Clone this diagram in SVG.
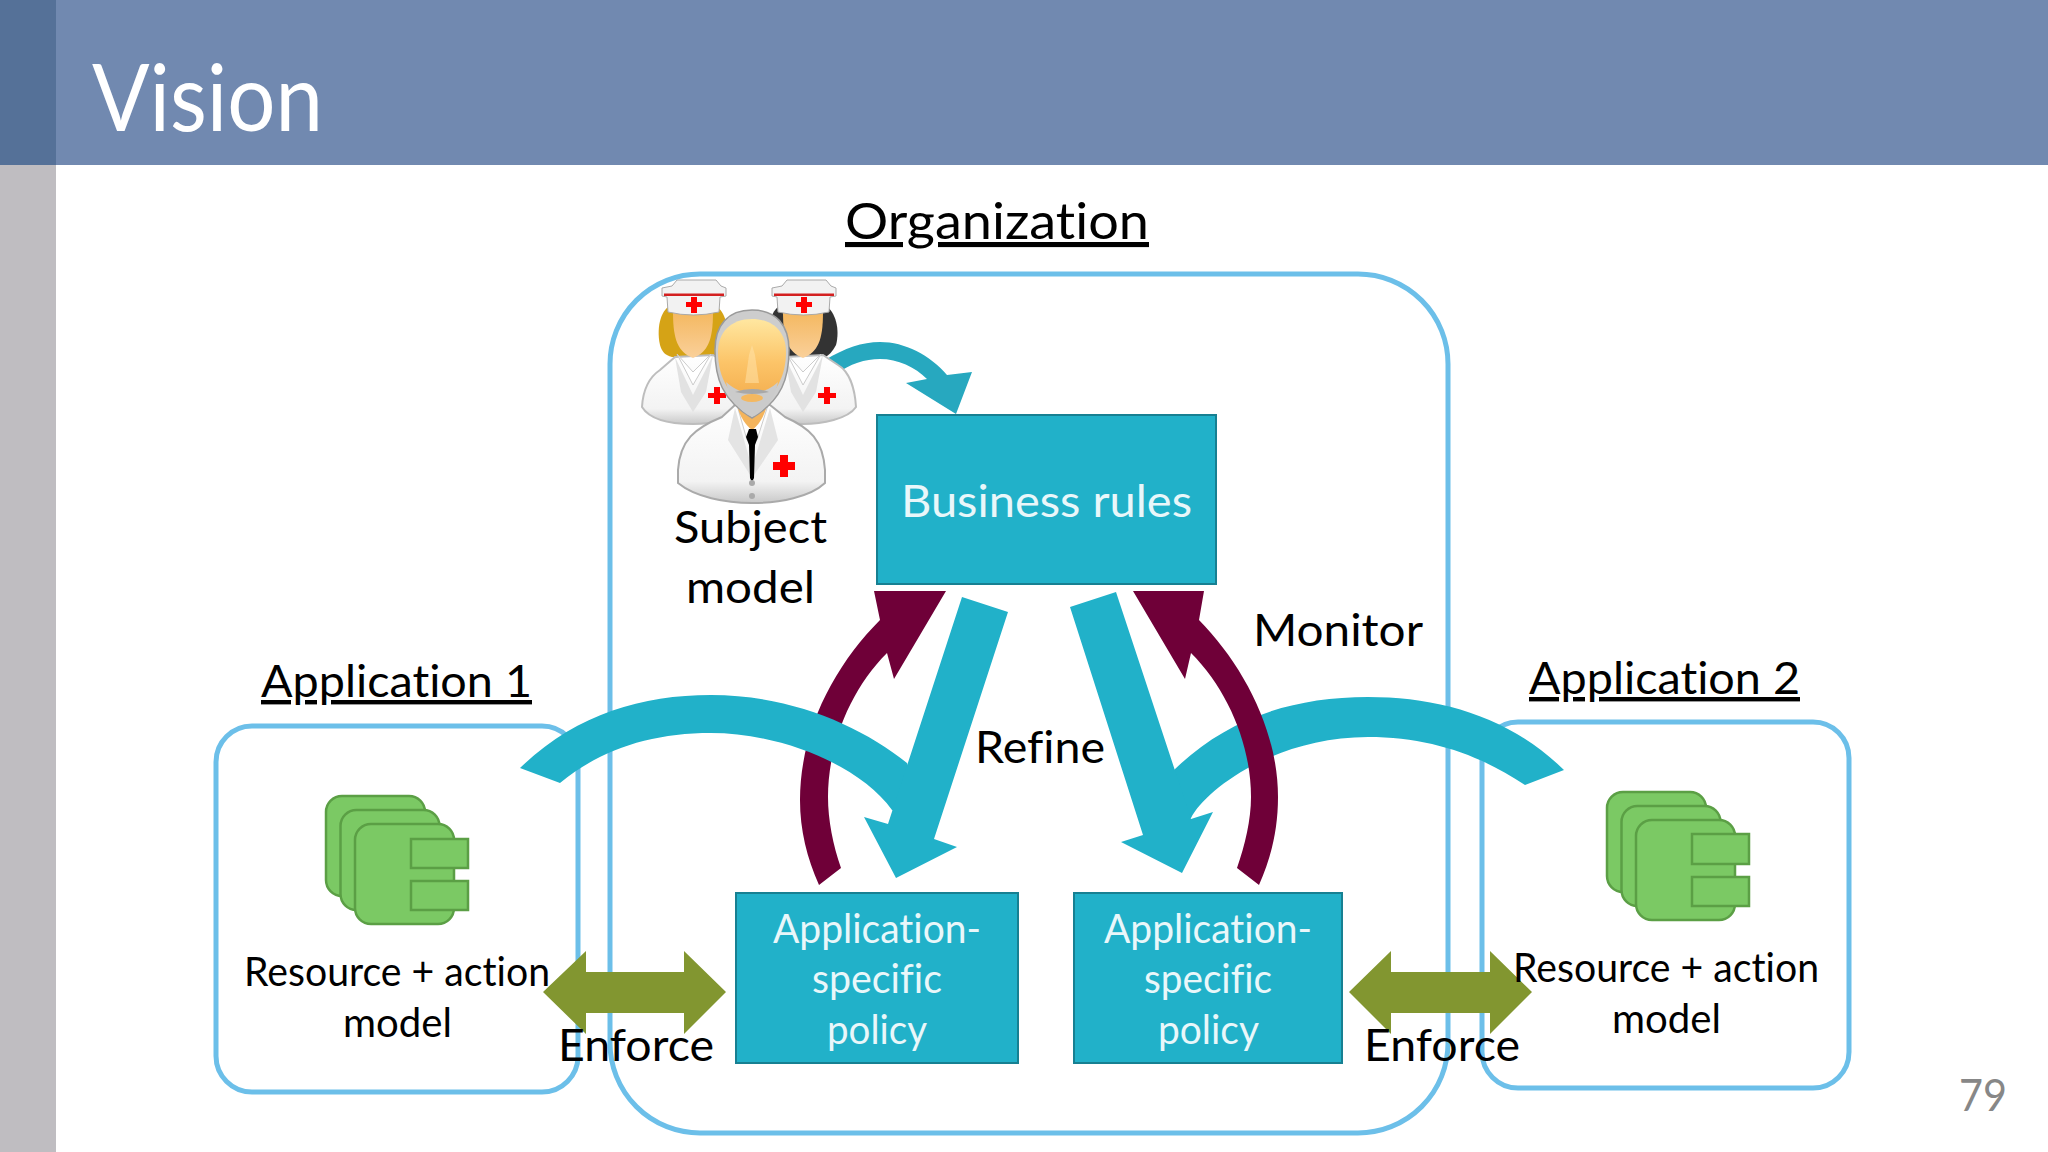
<svg xmlns="http://www.w3.org/2000/svg" width="2048" height="1152" viewBox="0 0 2048 1152">
<style>
text{font-family:"Lato","Carlito","Liberation Sans",sans-serif;fill:#000;font-variant-ligatures:none}
.t42{font-size:45px}.t37{font-size:40px}.t41{font-size:44px}
.u{text-decoration:underline}
.w{fill:#e9f7fa}
.frame{fill:none;stroke:#6cbfe9;stroke-width:5}
.box{fill:#21b1c9;stroke:#178092;stroke-width:2}
.teal{fill:#21b1c9}.maroon{fill:#6f0038}.olive{fill:#829630}
.comp{fill:#7bc964;stroke:#5b9f45;stroke-width:2.5}
.red{fill:#f00}
</style>
<defs>
<linearGradient id="coat" x1="0" y1="0" x2="0" y2="1"><stop offset="0" stop-color="#fff"/><stop offset=".78" stop-color="#f3f3f3"/><stop offset="1" stop-color="#c9c9c9"/></linearGradient>
<linearGradient id="face" x1="0" y1="0" x2="0" y2="1"><stop offset="0" stop-color="#ffe7a0"/><stop offset=".5" stop-color="#fcc468"/><stop offset="1" stop-color="#f2aa4a"/></linearGradient>
<linearGradient id="nface" x1="0" y1="0" x2="0" y2="1"><stop offset="0" stop-color="#f4b860"/><stop offset="1" stop-color="#fad09a"/></linearGradient>
<g id="nurse">
<path d="M642,407C643,390 648,378 660,370L675,357L713,355L728,365C740,372 745,390 746,407C738,419 712,424 693,424C672,424 650,420 642,407Z" fill="url(#coat)" stroke="#bdbdbd" stroke-width="2"/>
<path d="M675,357L693,395L713,355L706,392L693,412L681,392Z" fill="#e2e2e2"/>
<path d="M677,354L693,372L711,354L693,385Z" fill="#fff" stroke="#ccc"/>
<path d="M673,312C673,340 678,352 693,358C708,352 713,340 713,312Z" fill="url(#nface)"/>
<path d="M662,288L672,286L677,280L716,280L721,286L726,288L726,296L720,297L719,312Q693,318 668,312L667,297L662,296Z" fill="#f2f2f2" stroke="#aaa" stroke-width="1"/>
<rect x="664" y="293.500" width="60" height="2.500" fill="#d32020"/>
<path class="red" d="M691,297h6v5h5v5h-5v6h-6v-6h-5v-5h5z"/>
<path class="red" d="M714,387h6v6h6v5h-6v6h-6v-6h-6v-5h6z"/>
</g>
</defs>

<g id="slide-background">
<rect x="0" y="0" width="2048" height="165" fill="#7189b0"/>
<rect x="0" y="0" width="56" height="165" fill="#557198"/>
<rect x="0" y="165" width="56" height="987" fill="#bfbdc1"/>
<text x="92" y="131" font-size="94" font-weight="400" textLength="231" lengthAdjust="spacingAndGlyphs" style="fill:#fff">Vision</text>
<text x="1959" y="1111" class="t41" textLength="48" lengthAdjust="spacingAndGlyphs" style="fill:#878787">79</text>
</g>

<g id="organization">
<rect class="frame" x="610" y="274" width="838" height="859" rx="90" ry="90"/>
<text x="845" y="239" font-size="51" class="u" textLength="304" lengthAdjust="spacingAndGlyphs">Organization</text>
</g>
<g id="application-1">
<rect class="frame" x="216" y="726" width="362" height="366" rx="36" ry="36"/>
<text x="261" y="697" class="t41 u" textLength="271" lengthAdjust="spacingAndGlyphs">Application 1</text>
</g>
<g id="application-2">
<rect class="frame" x="1482" y="722" width="367" height="366" rx="36" ry="36"/>
<text x="1529" y="694" class="t41 u" textLength="271" lengthAdjust="spacingAndGlyphs">Application 2</text>
</g>

<g id="connectors">
<path class="maroon" d="M874,591L946,591L894,679L887,653C850,690 828,745 828,797C828,820 833,845 841,868L819,885C807,858 800,830 800,800C800,730 835,665 880,620Z"/>
<path class="teal" d="M520,768C575,715 640,695 711,695C790,695 860,725 907,763L930,830L892,810C860,765 780,733 711,733C650,733 600,750 560,783Z"/>
<path class="teal" d="M962,597L1008,612L934,839L957,847L896,878L864,817L888,824Z"/>
<path class="teal" d="M1564,770C1510,717 1440,697 1368,697C1290,697 1225,720 1174,770L1150,830L1191,818C1205,790 1275,737 1368,737C1430,737 1480,755 1525,785Z"/>
<path class="teal" d="M1116,592L1070,607L1143,835L1121,842L1182,873L1213,812L1191,819Z"/>
<path class="maroon" d="M1204,591L1133,591L1185,679L1191,653C1228,690 1251,745 1251,797C1251,820 1245,845 1237,868L1259,885C1271,858 1278,830 1278,797C1278,730 1243,665 1199,620Z"/>
<path d="M825,360C845,348 862,342 880,342C905,342 930,355 947,375L972,372L956,414L906,383L927,379C915,367 898,359 880,359C865,359 850,364 836,374Z" fill="#27a8bf"/>
<path class="olive" d="M543,992L586,951V972H684V951L726,992L684,1034V1013H586V1034Z"/>
<path class="olive" d="M1349,992L1391,951V972H1490V951L1532,992L1490,1034V1013H1391V1034Z"/>
</g>

<g id="subject-model">
<path d="M660,345C656,325 662,308 672,305L715,305C726,312 730,330 726,345C722,355 712,358 700,357L672,357C665,355 662,352 660,345Z" fill="#d5a316"/>
<use href="#nurse"/>
<path d="M770,345C766,325 772,308 782,305L825,305C836,312 840,330 836,345C832,352 829,356 824,357L782,357C775,355 772,352 770,345Z" fill="#333"/>
<use href="#nurse" x="110" y="0"/>
<path d="M678,470C680,440 695,428 722,417L735,405H770L785,417C810,428 823,440 825,470L825,483C810,497 780,503 752,503C725,503 695,497 678,483Z" fill="url(#coat)" stroke="#aaa" stroke-width="2"/>
<path d="M735,408L752,468L770,408L778,440L752,478L728,440Z" fill="#e4e4e4"/>
<path d="M737,405L752,428L768,405L757,440H747Z" fill="#fff" stroke="#ccc"/>
<path d="M736,395C736,412 745,425 752,430C759,425 768,412 768,395Z" fill="#f4b45c"/>
<path d="M749,429H756L758,437L755,445L754,478L752,482L750,478L749,445L746,437Z" fill="#000"/>
<path class="red" d="M780,455h8v7h7v8h-7v7h-8v-7h-7v-8h7z"/>
<circle cx="752" cy="483" r="3" fill="#aaa"/><circle cx="752" cy="496" r="3" fill="#aaa"/>
<path d="M752,310C728,310 715,325 715,350C715,378 722,400 752,418C782,400 789,378 789,350C789,325 776,310 752,310Z" fill="#cdcdcd" stroke="#9a9a9a" stroke-width="1.500"/>
<path d="M752,319C731,319 718,332 718,352C718,378 730,399 752,406C774,399 786,378 786,352C786,332 773,319 752,319Z" fill="url(#face)"/>
<path d="M749,355L752,345L755,355L759,383H745Z" fill="#ffe2a8" fill-opacity=".55"/>
<path d="M726,382C736,391 742,392 752,392C762,392 768,391 778,382C775,398 765,411 752,417C739,411 729,398 726,382Z" fill="#cbcbcb"/>
<ellipse cx="752" cy="398" rx="11" ry="4" fill="#f4b860"/>
<path d="M735,392Q752,386 769,392Q752,396 735,392Z" fill="#a8a8a8"/>
<text x="674" y="543" class="t42" textLength="153" lengthAdjust="spacingAndGlyphs">Subject</text>
<text x="686" y="603" class="t42" textLength="129" lengthAdjust="spacingAndGlyphs">model</text>
</g>

<g id="business-rules">
<rect class="box" x="877" y="415" width="339" height="169"/>
<text x="901" y="517" class="t42 w" textLength="291" lengthAdjust="spacingAndGlyphs">Business rules</text>
</g>
<g id="policy-1">
<rect class="box" x="736" y="893" width="282" height="170"/>
<text x="773" y="943" class="t37 w" textLength="208" lengthAdjust="spacingAndGlyphs">Application-</text>
<text x="812" y="993" class="t37 w" textLength="130" lengthAdjust="spacingAndGlyphs">specific</text>
<text x="827" y="1044" class="t37 w" textLength="100" lengthAdjust="spacingAndGlyphs">policy</text>
</g>
<g id="policy-2">
<rect class="box" x="1074" y="893" width="268" height="170"/>
<text x="1104" y="943" class="t37 w" textLength="208" lengthAdjust="spacingAndGlyphs">Application-</text>
<text x="1144" y="993" class="t37 w" textLength="128" lengthAdjust="spacingAndGlyphs">specific</text>
<text x="1158" y="1044" class="t37 w" textLength="101" lengthAdjust="spacingAndGlyphs">policy</text>
</g>
<g id="resource-model-1">
<rect class="comp" x="326" y="796" width="99" height="100" rx="16"/>
<rect class="comp" x="340.500" y="810" width="99" height="100" rx="16"/>
<rect class="comp" x="355" y="824" width="99" height="100" rx="16"/>
<rect class="comp" x="411" y="839" width="57" height="29"/>
<rect class="comp" x="411" y="881" width="57" height="29"/>
<text x="244" y="986" class="t37" textLength="306" lengthAdjust="spacingAndGlyphs">Resource + action</text>
<text x="343" y="1037" class="t37" textLength="109" lengthAdjust="spacingAndGlyphs">model</text>
</g>
<g id="resource-model-2">
<rect class="comp" x="1607" y="792" width="99" height="100" rx="16"/>
<rect class="comp" x="1621.500" y="806" width="99" height="100" rx="16"/>
<rect class="comp" x="1636" y="820" width="99" height="100" rx="16"/>
<rect class="comp" x="1692" y="834" width="57" height="30"/>
<rect class="comp" x="1692" y="877" width="57" height="29"/>
<text x="1513" y="982" class="t37" textLength="306" lengthAdjust="spacingAndGlyphs">Resource + action</text>
<text x="1612" y="1033" class="t37" textLength="109" lengthAdjust="spacingAndGlyphs">model</text>
</g>

<g id="connector-labels">
<text x="975" y="763" class="t42" textLength="130" lengthAdjust="spacingAndGlyphs">Refine</text>
<text x="1253" y="646" class="t42" textLength="170" lengthAdjust="spacingAndGlyphs">Monitor</text>
<text x="558" y="1061" class="t42" textLength="156" lengthAdjust="spacingAndGlyphs">Enforce</text>
<text x="1364" y="1061" class="t42" textLength="156" lengthAdjust="spacingAndGlyphs">Enforce</text>
</g>
</svg>
